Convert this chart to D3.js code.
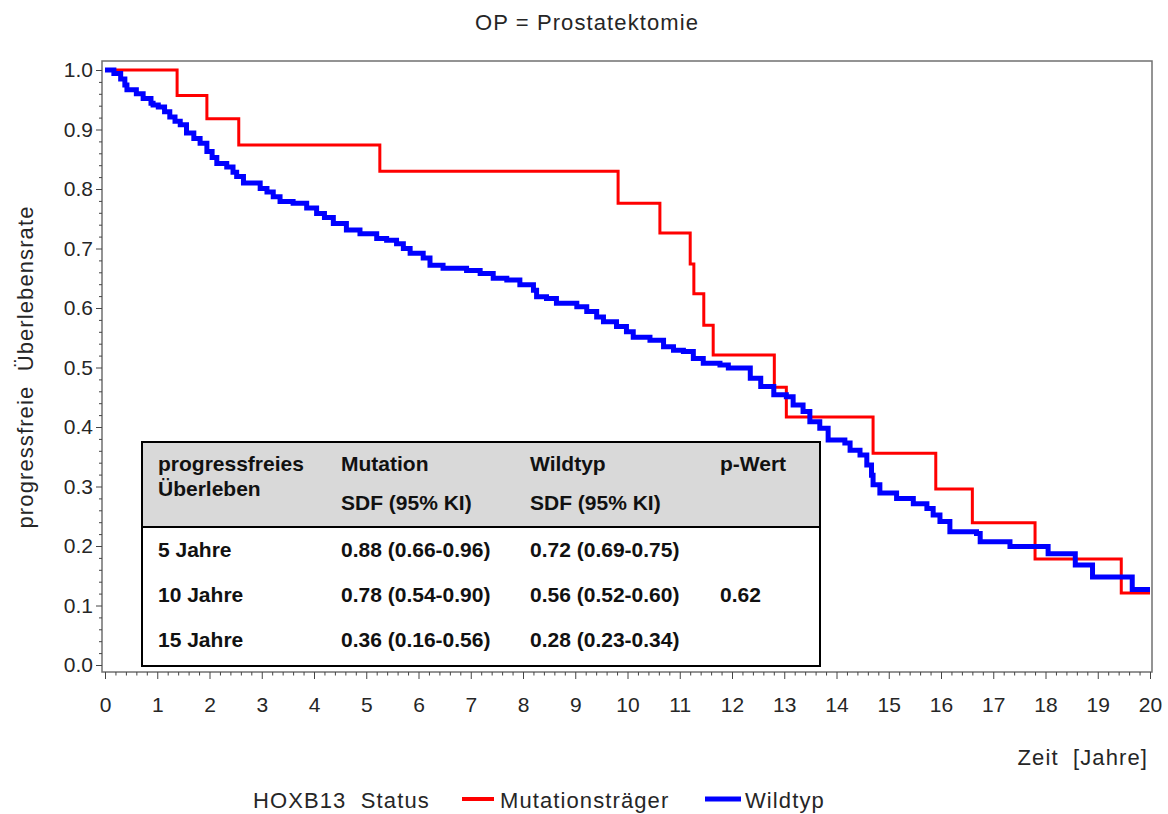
<!DOCTYPE html>
<html>
<head>
<meta charset="utf-8">
<script src="https://cdn.jsdelivr.net/npm/d3@7"></script>
<style>
  body { margin: 0; background: #fff; }
  svg text { font-family: "Liberation Sans", Arial, sans-serif; white-space: pre; }
  .lbl { font-size: 22px; letter-spacing: 1.1px; fill: #262626; }
</style>
</head>
<body>
<div id="chart"></div>
<script>
//Daten: Kaplan-Meier Stufen (Zeit in Jahren, Überlebensrate)
const mutTime = [0, 1.38, 1.95, 2.56, 5.26, 9.82, 10.62, 11.20, 11.27, 11.46, 11.64, 12.81, 13.04, 14.70, 15.90, 16.60, 17.80, 19.45, 20.0];
const mutSurv = [1.000, 0.957, 0.918, 0.874, 0.830, 0.776, 0.726, 0.674, 0.624, 0.571, 0.521, 0.467, 0.417, 0.356, 0.296, 0.239, 0.178, 0.121, 0.121];

const wildTime = [0, 0.17, 0.30, 0.38, 0.42, 0.60, 0.73, 0.88, 0.92, 1.02, 1.14, 1.24, 1.34, 1.44, 1.56, 1.70, 1.82, 1.95, 2.05, 2.14,
  2.33, 2.45, 2.52, 2.65, 2.97, 3.10, 3.22, 3.35, 3.60, 3.86, 4.05, 4.20, 4.37, 4.62, 4.88, 5.20, 5.39, 5.58, 5.71, 5.84,
  6.09, 6.22, 6.47, 6.92, 7.18, 7.43, 7.69, 7.94, 8.20, 8.26, 8.45, 8.64, 9.03, 9.22, 9.41, 9.54, 9.79, 9.98, 10.11, 10.43,
  10.69, 10.88, 11.07, 11.26, 11.45, 11.77, 11.93, 12.35, 12.55, 12.80, 13.04, 13.17, 13.36, 13.49, 13.68, 13.84, 14.16, 14.26, 14.45, 14.58,
  14.67, 14.70, 14.83, 15.15, 15.47, 15.73, 15.85, 15.98, 16.17, 16.68, 16.75, 17.32, 18.05, 18.57, 18.90, 19.66, 20.0];
const wildSurv = [1.000, 0.994, 0.985, 0.975, 0.967, 0.960, 0.952, 0.944, 0.941, 0.938, 0.930, 0.921, 0.914, 0.908, 0.894, 0.885, 0.877, 0.863, 0.853, 0.843,
  0.837, 0.828, 0.821, 0.810, 0.801, 0.795, 0.787, 0.779, 0.776, 0.768, 0.759, 0.752, 0.742, 0.731, 0.725, 0.717, 0.714, 0.708, 0.700, 0.692,
  0.684, 0.672, 0.667, 0.663, 0.658, 0.650, 0.647, 0.639, 0.630, 0.619, 0.616, 0.608, 0.602, 0.594, 0.585, 0.577, 0.569, 0.560, 0.551, 0.546,
  0.535, 0.529, 0.527, 0.515, 0.507, 0.504, 0.499, 0.482, 0.468, 0.454, 0.451, 0.437, 0.426, 0.409, 0.398, 0.378, 0.373, 0.361, 0.353, 0.336,
  0.319, 0.303, 0.289, 0.280, 0.271, 0.263, 0.252, 0.241, 0.224, 0.221, 0.207, 0.199, 0.187, 0.168, 0.148, 0.127, 0.127];

const yTicks = [0, 0.1, 0.2, 0.3, 0.4, 0.5, 0.6, 0.7, 0.8, 0.9, 1.0];
const xTicks = d3.range(0, 21);

//Tabelle
const tabHead1 = ['progressfreies', 'Mutation', 'Wildtyp', 'p-Wert'];
const tabHead2 = ['Überleben', 'SDF (95% KI)', 'SDF (95% KI)', ''];
const tabRows = [
  ['5 Jahre', '0.88 (0.66-0.96)', '0.72 (0.69-0.75)', ''],
  ['10 Jahre', '0.78 (0.54-0.90)', '0.56 (0.52-0.60)', '0.62'],
  ['15 Jahre', '0.36 (0.16-0.56)', '0.28 (0.23-0.34)', '']
];

const legendTitle = 'HOXB13  Status';
const seriesNames = ['Mutationsträger', 'Wildtyp'];

const COLOR_MUT = '#ff0000', COLOR_WILD = '#0000ff', TEXT = '#262626';

let width = 1168, height = 814;
let svg = d3.select('#chart').append('svg')
    .attr('width', width)
    .attr('height', height);

let x = d3.scaleLinear().domain([0, 20]).range([105, 1150]);
let y = d3.scaleLinear().domain([0, 1]).range([665, 70]);

let frame = {left: 102, top: 61, right: 1152, bottom: 672};

//Rahmen
svg.append('rect')
    .attr('x', frame.left).attr('y', frame.top)
    .attr('width', frame.right - frame.left).attr('height', frame.bottom - frame.top)
    .attr('fill', 'none').attr('stroke', '#707070').attr('stroke-width', 1.5);

//Y Achse
let yMinor = d3.range(0, 1.0001, 0.02).filter(function(d) { return Math.abs(d * 10 - Math.round(d * 10)) > 0.01; });
svg.append('g')
    .attr('transform', 'translate(' + frame.left + ',0)')
    .call(d3.axisLeft(y).tickValues(yMinor).tickSize(3).tickFormat(''))
    .call(function(g) { g.select('.domain').remove(); g.selectAll('line').attr('stroke', '#444'); });
svg.append('g')
    .attr('transform', 'translate(' + frame.left + ',0)')
    .call(d3.axisLeft(y).tickValues(yTicks).tickSize(6).tickFormat(d3.format('.1f')))
    .call(function(g) {
        g.select('.domain').remove();
        g.selectAll('line').attr('stroke', '#444');
        g.selectAll('text').attr('x', -9).attr('fill', TEXT).style('font-size', '21px').attr('font-family', null);
    });

//X Achse
let xMinor = d3.range(0, 20.001, 0.2).filter(function(d) { return Math.abs(d - Math.round(d)) > 0.01; });
svg.append('g')
    .attr('transform', 'translate(0,' + frame.bottom + ')')
    .call(d3.axisBottom(x).tickValues(xMinor).tickSize(3.5).tickFormat(''))
    .call(function(g) { g.select('.domain').remove(); g.selectAll('line').attr('stroke', '#444'); });
svg.append('g')
    .attr('transform', 'translate(0,' + frame.bottom + ')')
    .call(d3.axisBottom(x).tickValues(xTicks).tickSize(7).tickFormat(d3.format('d')))
    .call(function(g) {
        g.select('.domain').remove();
        g.selectAll('line').attr('stroke', '#444');
        g.selectAll('text').attr('y', 40).attr('dy', null).attr('fill', TEXT).style('font-size', '21px').attr('font-family', null);
    });

//Titel und Achsenbeschriftungen
svg.append('text').attr('class', 'lbl').attr('x', 587).attr('y', 30).attr('text-anchor', 'middle')
    .text('OP = Prostatektomie');
svg.append('text').attr('class', 'lbl').attr('transform', 'translate(33,367) rotate(-90)').attr('text-anchor', 'middle')
    .text('progressfreie  Überlebensrate');
svg.append('text').attr('class', 'lbl').attr('x', 1148).attr('y', 765).attr('text-anchor', 'end')
    .text('Zeit  [Jahre]');

//Tabelle
let tab = svg.append('g');
tab.append('rect').attr('x', 142).attr('y', 442).attr('width', 678).attr('height', 224)
    .attr('fill', '#fff').attr('stroke', '#000').attr('stroke-width', 2);
tab.append('rect').attr('x', 143).attr('y', 443).attr('width', 676).attr('height', 84)
    .attr('fill', '#d9d9d9');
tab.append('line').attr('x1', 142).attr('x2', 820).attr('y1', 527).attr('y2', 527)
    .attr('stroke', '#000').attr('stroke-width', 2);
let colX = [158, 341, 530, 720];
function cell(txt, cx, cy) {
    tab.append('text').attr('x', cx).attr('y', cy).attr('fill', '#111')
        .style('font-size', '21px').style('font-weight', 'bold').text(txt);
}
tabHead1.forEach(function(t, i) { cell(t, colX[i], 471); });
cell(tabHead2[0], colX[0], 496);
tabHead2.slice(1).forEach(function(t, i) { cell(t, colX[i + 1], 510); });
let rowY = [557, 602, 647];
tabRows.forEach(function(r, j) {
    r.forEach(function(t, i) { cell(t, colX[i], rowY[j]); });
});

//Kurven
let line = d3.line()
    .x(function(d) { return x(d[0]); })
    .y(function(d) { return y(d[1]); })
    .curve(d3.curveStepAfter);

svg.append('path')
    .datum(d3.zip(mutTime, mutSurv))
    .attr('fill', 'none').attr('stroke', COLOR_MUT).attr('stroke-width', 3)
    .attr('d', line);
svg.append('path')
    .datum(d3.zip(wildTime, wildSurv))
    .attr('fill', 'none').attr('stroke', COLOR_WILD).attr('stroke-width', 5)
    .attr('d', line);

//Legende
let leg = svg.append('g');
leg.append('text').attr('class', 'lbl').attr('x', 253).attr('y', 808).text(legendTitle);
leg.append('line').attr('x1', 462).attr('x2', 494).attr('y1', 799).attr('y2', 799)
    .attr('stroke', COLOR_MUT).attr('stroke-width', 4);
leg.append('text').attr('class', 'lbl').attr('x', 500).attr('y', 808).text(seriesNames[0]);
leg.append('line').attr('x1', 705).attr('x2', 741).attr('y1', 799).attr('y2', 799)
    .attr('stroke', COLOR_WILD).attr('stroke-width', 5);
leg.append('text').attr('class', 'lbl').attr('x', 745).attr('y', 808).text(seriesNames[1]);
</script>
</body>
</html>
